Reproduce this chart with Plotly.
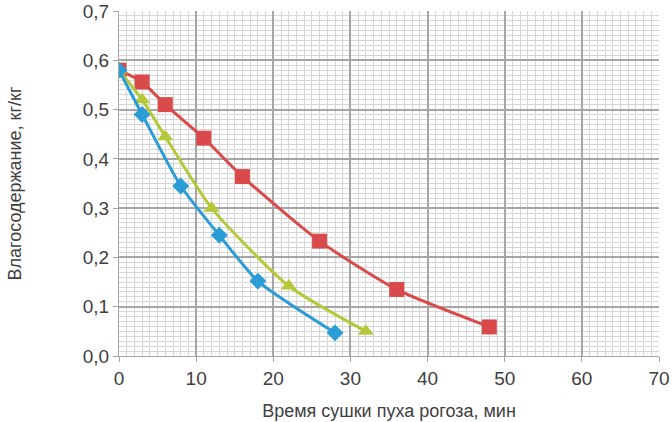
import plotly.graph_objects as go

red_x = [0, 3, 6, 11, 16, 26, 36, 48]
red_y = [0.58, 0.556, 0.51, 0.442, 0.364, 0.233, 0.135, 0.059]
green_x = [0, 3, 6, 12, 22, 32]
green_y = [0.58, 0.52, 0.445, 0.30, 0.142, 0.05]
blue_x = [0, 3, 8, 13, 18, 28]
blue_y = [0.58, 0.49, 0.345, 0.245, 0.152, 0.047]

x_ticks = [0, 10, 20, 30, 40, 50, 60, 70]
y_ticks = [0.0, 0.1, 0.2, 0.3, 0.4, 0.5, 0.6, 0.7]

RED = "#d94a4a"
GREEN = "#b5c83a"
BLUE = "#2a9cd6"

fig = go.Figure()
fig.add_trace(go.Scatter(x=red_x, y=red_y, mode="lines+markers",
                         line=dict(color=RED, width=3, shape="spline", smoothing=0.6),
                         marker=dict(symbol="square", size=15, color=RED)))
fig.add_trace(go.Scatter(x=green_x, y=green_y, mode="lines+markers",
                         line=dict(color=GREEN, width=3, shape="spline", smoothing=0.6),
                         marker=dict(symbol="triangle-up", size=14, color=GREEN)))
fig.add_trace(go.Scatter(x=blue_x, y=blue_y, mode="lines+markers",
                         line=dict(color=BLUE, width=3, shape="spline", smoothing=0.6),
                         marker=dict(symbol="diamond", size=13, color=BLUE)))

font = "Liberation Sans, Arial, sans-serif"
fig.update_layout(
    width=672, height=422,
    margin=dict(l=119, r=13, t=11, b=66),
    paper_bgcolor="white", plot_bgcolor="white",
    showlegend=False,
    separators=", ",
    font=dict(family=font, size=19, color="#404040"),
    xaxis=dict(range=[0, 70], tickvals=x_ticks, showgrid=True, gridcolor="#a6a6a6", gridwidth=1.5,
               minor=dict(dtick=1, showgrid=True, gridcolor="#d6d6d6", gridwidth=1),
               zeroline=False, showline=True, linecolor="#a6a6a6", linewidth=1,
               ticks="outside", ticklen=5, tickcolor="#a6a6a6", automargin=False,
               tickfont=dict(size=19),
               title=dict(text="Время сушки пуха рогоза, мин", font=dict(size=18), standoff=16)),
    yaxis=dict(range=[0, 0.7], tickvals=y_ticks, tickformat=".1f", showgrid=True, gridcolor="#a6a6a6", gridwidth=1.5,
               minor=dict(dtick=0.01, showgrid=True, gridcolor="#d6d6d6", gridwidth=1),
               zeroline=False, showline=True, linecolor="#a6a6a6", linewidth=1,
               ticks="outside", ticklen=5, tickcolor="#a6a6a6", automargin=False,
               tickfont=dict(size=19),
               title=dict(text="Влагосодержание, кг/кг", font=dict(size=18), standoff=56)),
)

fig.write_html("out.html", config={"displayModeBar": False},
               post_script="document.body.style.margin='0';document.body.style.overflow='hidden';")
